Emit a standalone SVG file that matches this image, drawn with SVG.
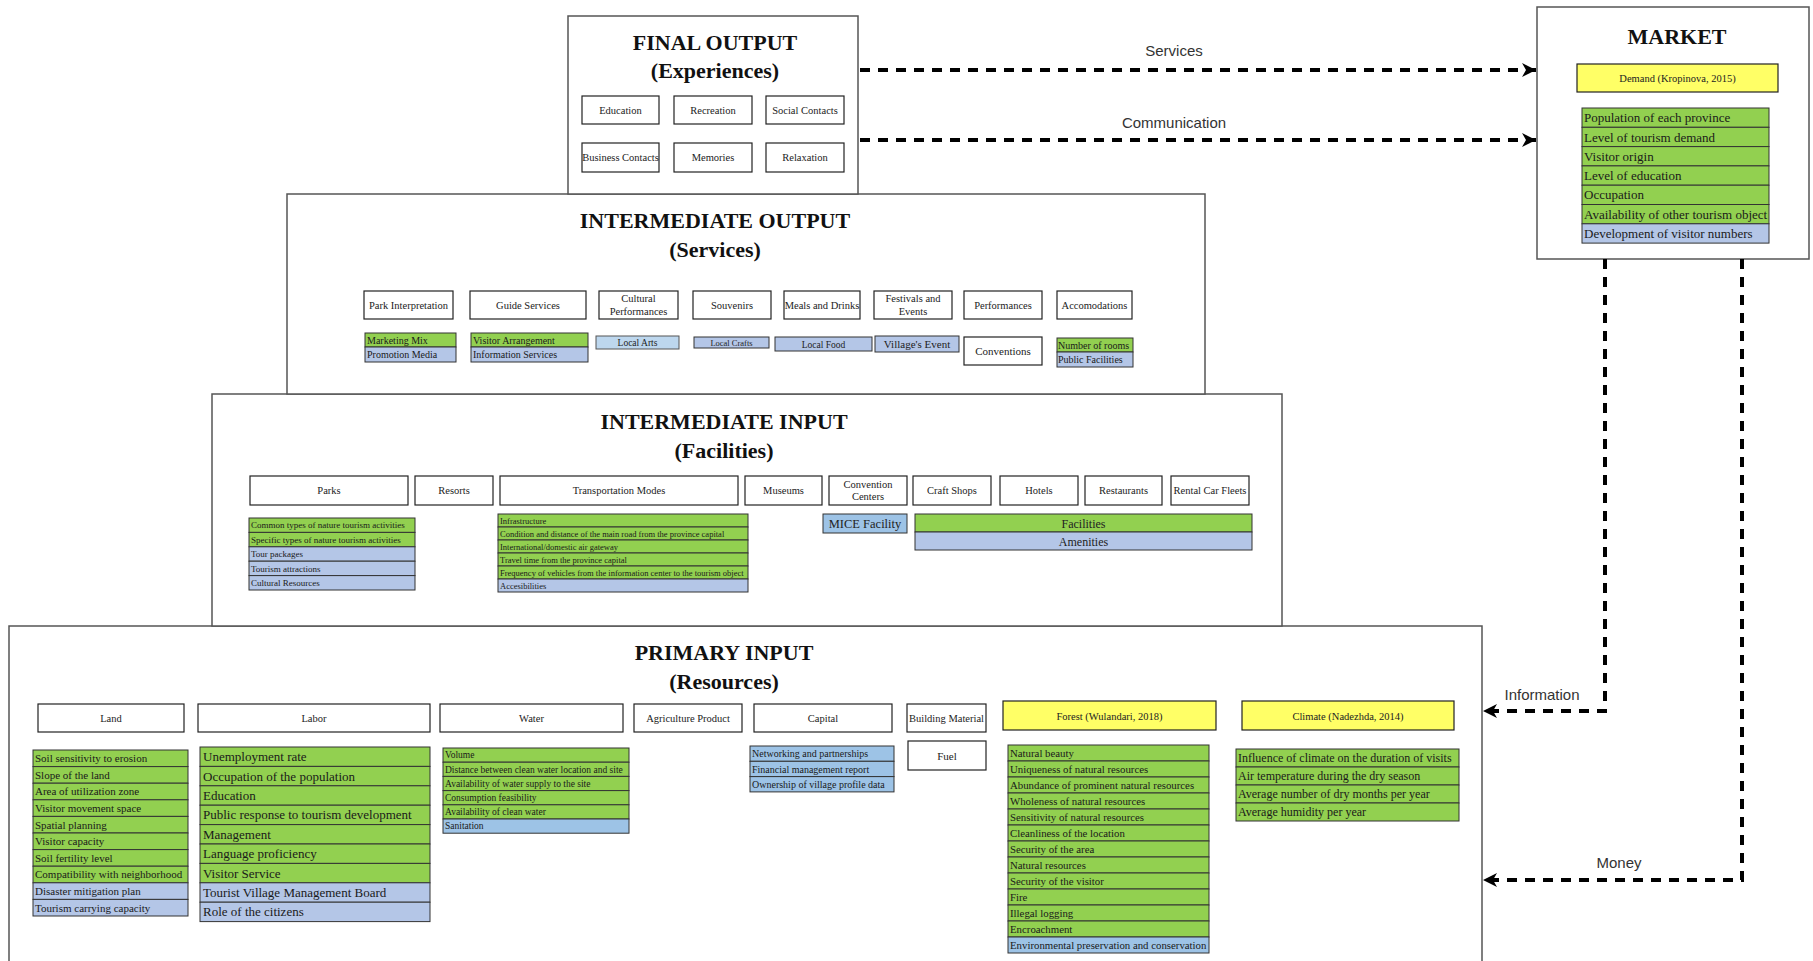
<svg xmlns="http://www.w3.org/2000/svg" width="1813" height="961" viewBox="0 0 1813 961">
<style>
.panel{fill:#fff;stroke:#555;stroke-width:1.5}
.box{fill:#fff;stroke:#222;stroke-width:1.2}
.g{fill:#92D050;stroke:#333;stroke-width:1}
.b{fill:#B4C6E7;stroke:#333;stroke-width:1}
.b2{fill:#9DC3E6;stroke:#333;stroke-width:1}
.lb{fill:#BDD7EE;stroke:#555;stroke-width:1}
.y{fill:#FFFF66;stroke:#222;stroke-width:1.2}
.title{font-family:"Liberation Serif","Times New Roman",serif;font-weight:bold;font-size:22px;fill:#111;text-anchor:middle}
.t{font-family:"Liberation Serif","Times New Roman",serif;font-size:10.5px;fill:#222;text-anchor:middle}
.l{font-family:"Liberation Serif","Times New Roman",serif;fill:#1a1a1a}
.edge{fill:none;stroke:#000;stroke-width:4;stroke-dasharray:10 8}
.el{font-family:"Liberation Sans",Arial,sans-serif;font-size:15px;fill:#333;text-anchor:middle}
</style>
<defs>
<marker id="arr" markerUnits="userSpaceOnUse" markerWidth="16" markerHeight="14" refX="14" refY="7" orient="auto">
<path d="M0,0 L14,7 L0,14 L4,7 z" fill="#000"/>
</marker>
</defs>

<g id="primary-input">
<rect class="panel" x="9" y="626" width="1473" height="345"/>
<text class="title" x="724" y="660">PRIMARY INPUT</text>
<text class="title" x="724" y="689">(Resources)</text>
<rect class="box" x="38" y="704" width="146" height="28"/><text class="t" x="111" y="722">Land</text>
<rect class="box" x="198" y="704" width="232" height="28"/><text class="t" x="314" y="722">Labor</text>
<rect class="box" x="440" y="704" width="183" height="28"/><text class="t" x="531.5" y="722">Water</text>
<rect class="box" x="634" y="704" width="108" height="28"/><text class="t" x="688" y="722">Agriculture Product</text>
<rect class="box" x="754" y="704" width="138" height="28"/><text class="t" x="823" y="722">Capital</text>
<rect class="box" x="907" y="704" width="79" height="28"/><text class="t" x="946.5" y="722">Building Material</text>
<rect class="box" x="908" y="741" width="78" height="29"/><text class="t" x="947" y="759.5" style="font-size:11px">Fuel</text>
<rect class="y" x="1003" y="701" width="213" height="29"/><text class="t" x="1109.5" y="719.5">Forest (Wulandari, 2018)</text>
<rect class="y" x="1242" y="701" width="212" height="29"/><text class="t" x="1348" y="719.5">Climate (Nadezhda, 2014)</text>
<g class="l" style="font-size:11px">
<rect class="g" x="33" y="750" width="155" height="16.6"/><text x="35" y="762.2">Soil sensitivity to erosion</text>
<rect class="g" x="33" y="766.6" width="155" height="16.6"/><text x="35" y="778.8">Slope of the land</text>
<rect class="g" x="33" y="783.2" width="155" height="16.6"/><text x="35" y="795.4">Area of utilization zone</text>
<rect class="g" x="33" y="799.8" width="155" height="16.6"/><text x="35" y="812">Visitor movement space</text>
<rect class="g" x="33" y="816.4" width="155" height="16.6"/><text x="35" y="828.6">Spatial planning</text>
<rect class="g" x="33" y="833" width="155" height="16.6"/><text x="35" y="845.2">Visitor capacity</text>
<rect class="g" x="33" y="849.6" width="155" height="16.6"/><text x="35" y="861.8">Soil fertility level</text>
<rect class="g" x="33" y="866.2" width="155" height="16.6"/><text x="35" y="878.4">Compatibility with neighborhood</text>
<rect class="b" x="33" y="882.8" width="155" height="16.6"/><text x="35" y="895">Disaster mitigation plan</text>
<rect class="b" x="33" y="899.4" width="155" height="16.6"/><text x="35" y="911.6">Tourism carrying capacity</text>
</g>
<g class="l" style="font-size:13px">
<rect class="g" x="200" y="747" width="230" height="19.4"/><text x="203" y="761.2">Unemployment rate</text>
<rect class="g" x="200" y="766.4" width="230" height="19.4"/><text x="203" y="780.6">Occupation of the population</text>
<rect class="g" x="200" y="785.8" width="230" height="19.4"/><text x="203" y="800">Education</text>
<rect class="g" x="200" y="805.2" width="230" height="19.4"/><text x="203" y="819.4">Public response to tourism development</text>
<rect class="g" x="200" y="824.6" width="230" height="19.4"/><text x="203" y="838.8">Management</text>
<rect class="g" x="200" y="844" width="230" height="19.4"/><text x="203" y="858.2">Language proficiency</text>
<rect class="g" x="200" y="863.4" width="230" height="19.4"/><text x="203" y="877.6">Visitor Service</text>
<rect class="b" x="200" y="882.8" width="230" height="19.4"/><text x="203" y="897">Tourist Village Management Board</text>
<rect class="b" x="200" y="902.2" width="230" height="19.4"/><text x="203" y="916.4">Role of the citizens</text>
</g>
<g class="l" style="font-size:9.5px">
<rect class="g" x="443" y="748" width="186" height="14.2"/><text x="445" y="758.4">Volume</text>
<rect class="g" x="443" y="762.2" width="186" height="14.2"/><text x="445" y="772.6">Distance between clean water location and site</text>
<rect class="g" x="443" y="776.4" width="186" height="14.2"/><text x="445" y="786.8">Availability of water supply to the site</text>
<rect class="g" x="443" y="790.6" width="186" height="14.2"/><text x="445" y="801">Consumption feasibility</text>
<rect class="g" x="443" y="804.8" width="186" height="14.2"/><text x="445" y="815.2">Availability of clean water</text>
<rect class="b2" x="443" y="819" width="186" height="14.2"/><text x="445" y="829.4">Sanitation</text>
</g>
<g class="l" style="font-size:10px">
<rect class="b2" x="750" y="746" width="144" height="15.3"/><text x="752" y="757.2">Networking and partnerships</text>
<rect class="b2" x="750" y="761.3" width="144" height="15.3"/><text x="752" y="772.5">Financial management report</text>
<rect class="b2" x="750" y="776.6" width="144" height="15.3"/><text x="752" y="787.8">Ownership of village profile data</text>
</g>
<g class="l" style="font-size:10.8px">
<rect class="g" x="1008" y="745" width="201" height="16"/><text x="1010" y="756.9">Natural beauty</text>
<rect class="g" x="1008" y="761" width="201" height="16"/><text x="1010" y="772.9">Uniqueness of natural resources</text>
<rect class="g" x="1008" y="777" width="201" height="16"/><text x="1010" y="788.9">Abundance of prominent natural resources</text>
<rect class="g" x="1008" y="793" width="201" height="16"/><text x="1010" y="804.9">Wholeness of natural resources</text>
<rect class="g" x="1008" y="809" width="201" height="16"/><text x="1010" y="820.9">Sensitivity of natural resources</text>
<rect class="g" x="1008" y="825" width="201" height="16"/><text x="1010" y="836.9">Cleanliness of the location</text>
<rect class="g" x="1008" y="841" width="201" height="16"/><text x="1010" y="852.9">Security of the area</text>
<rect class="g" x="1008" y="857" width="201" height="16"/><text x="1010" y="868.9">Natural resources</text>
<rect class="g" x="1008" y="873" width="201" height="16"/><text x="1010" y="884.9">Security of the visitor</text>
<rect class="g" x="1008" y="889" width="201" height="16"/><text x="1010" y="900.9">Fire</text>
<rect class="g" x="1008" y="905" width="201" height="16"/><text x="1010" y="916.9">Illegal logging</text>
<rect class="g" x="1008" y="921" width="201" height="16"/><text x="1010" y="932.9">Encroachment</text>
<rect class="b2" x="1008" y="937" width="201" height="16"/><text x="1010" y="948.9">Environmental preservation and conservation</text>
</g>
<g class="l" style="font-size:12px">
<rect class="g" x="1236" y="749" width="223" height="18"/><text x="1238" y="762.2">Influence of climate on the duration of visits</text>
<rect class="g" x="1236" y="767" width="223" height="18"/><text x="1238" y="780.2">Air temperature during the dry season</text>
<rect class="g" x="1236" y="785" width="223" height="18"/><text x="1238" y="798.2">Average number of dry months per year</text>
<rect class="g" x="1236" y="803" width="223" height="18"/><text x="1238" y="816.2">Average humidity per year</text>
</g>
</g>

<g id="intermediate-input">
<rect class="panel" x="212" y="394" width="1070" height="232"/>
<text class="title" x="724" y="429">INTERMEDIATE INPUT</text>
<text class="title" x="724" y="458">(Facilities)</text>
<rect class="box" x="250" y="476" width="158" height="29"/><text class="t" x="329" y="494">Parks</text>
<rect class="box" x="415" y="476" width="78" height="29"/><text class="t" x="454" y="494">Resorts</text>
<rect class="box" x="500" y="476" width="238" height="29"/><text class="t" x="619" y="494">Transportation Modes</text>
<rect class="box" x="745" y="476" width="77" height="29"/><text class="t" x="783.5" y="494">Museums</text>
<rect class="box" x="829" y="476" width="78" height="29"/><text class="t" x="868" y="487.5">Convention</text><text class="t" x="868" y="500">Centers</text>
<rect class="box" x="913" y="476" width="78" height="29"/><text class="t" x="952" y="494">Craft Shops</text>
<rect class="box" x="1000" y="476" width="78" height="29"/><text class="t" x="1039" y="494">Hotels</text>
<rect class="box" x="1085" y="476" width="77" height="29"/><text class="t" x="1123.5" y="494">Restaurants</text>
<rect class="box" x="1171" y="476" width="78" height="29"/><text class="t" x="1210" y="494">Rental Car Fleets</text>
<g class="l" style="font-size:9px">
<rect class="g" x="249" y="518" width="166" height="14.4"/><text x="251" y="528.3">Common types of nature tourism activities</text>
<rect class="g" x="249" y="532.4" width="166" height="14.4"/><text x="251" y="542.7">Specific types of nature tourism activities</text>
<rect class="b" x="249" y="546.8" width="166" height="14.4"/><text x="251" y="557.1">Tour packages</text>
<rect class="b" x="249" y="561.2" width="166" height="14.4"/><text x="251" y="571.5">Tourism attractions</text>
<rect class="b" x="249" y="575.6" width="166" height="14.4"/><text x="251" y="585.9">Cultural Resources</text>
</g>
<g class="l" style="font-size:8.5px">
<rect class="g" x="498" y="514" width="250" height="13"/><text x="500" y="523.5">Infrastructure</text>
<rect class="g" x="498" y="527" width="250" height="13"/><text x="500" y="536.5">Condition and distance of the main road from the province capital</text>
<rect class="g" x="498" y="540" width="250" height="13"/><text x="500" y="549.5">International/domestic air gateway</text>
<rect class="g" x="498" y="553" width="250" height="13"/><text x="500" y="562.5">Travel time from the province capital</text>
<rect class="g" x="498" y="566" width="250" height="13"/><text x="500" y="575.5">Frequency of vehicles from the information center to the tourism object</text>
<rect class="b" x="498" y="579" width="250" height="13"/><text x="500" y="588.5">Accesibilities</text>
</g>
<rect class="b2" x="823" y="514" width="84" height="19"/><text class="t" x="865" y="528" style="font-size:12.5px">MICE Facility</text>
<rect class="g" x="915" y="514" width="337" height="18"/><text class="t" x="1083.5" y="527.5" style="font-size:12px">Facilities</text>
<rect class="b" x="915" y="532" width="337" height="18"/><text class="t" x="1083.5" y="545.5" style="font-size:12px">Amenities</text>
</g>

<g id="intermediate-output">
<rect class="panel" x="287" y="194" width="918" height="200"/>
<text class="title" x="715" y="228">INTERMEDIATE OUTPUT</text>
<text class="title" x="715" y="257">(Services)</text>
<rect class="box" x="364" y="291" width="89" height="28"/><text class="t" x="408.5" y="309">Park Interpretation</text>
<rect class="box" x="470" y="291" width="116" height="28"/><text class="t" x="528" y="309">Guide Services</text>
<rect class="box" x="599" y="291" width="79" height="28"/><text class="t" x="638.5" y="302">Cultural</text><text class="t" x="638.5" y="315">Performances</text>
<rect class="box" x="693" y="291" width="78" height="28"/><text class="t" x="732" y="309">Souvenirs</text>
<rect class="box" x="784" y="291" width="76" height="28"/><text class="t" x="822" y="309">Meals and Drinks</text>
<rect class="box" x="874" y="291" width="78" height="28"/><text class="t" x="913" y="302">Festivals and</text><text class="t" x="913" y="315">Events</text>
<rect class="box" x="964" y="291" width="78" height="28"/><text class="t" x="1003" y="309">Performances</text>
<rect class="box" x="1057" y="291" width="75" height="28"/><text class="t" x="1094.5" y="309">Accomodations</text>
<g class="l" style="font-size:10px">
<rect class="g" x="365" y="333" width="91" height="14"/><text x="367" y="343.5">Marketing Mix</text>
<rect class="b" x="365" y="347" width="91" height="15"/><text x="367" y="358">Promotion Media</text>
<rect class="g" x="471" y="333" width="117" height="14"/><text x="473" y="343.5">Visitor Arrangement</text>
<rect class="b" x="471" y="347" width="117" height="15"/><text x="473" y="358">Information Services</text>
<rect class="g" x="1057" y="338" width="76" height="14"/><text x="1058" y="348.5">Number of rooms</text>
<rect class="b" x="1057" y="352" width="76" height="15"/><text x="1058" y="363">Public Facilities</text>
</g>
<rect class="lb" x="596" y="336" width="83" height="13"/><text class="t" x="637.5" y="346" style="font-size:9.5px">Local Arts</text>
<rect class="b" x="694" y="337" width="75" height="11"/><text class="t" x="731.5" y="345.5" style="font-size:8.5px">Local Crafts</text>
<rect class="b" x="775" y="337" width="97" height="14"/><text class="t" x="823.5" y="347.5" style="font-size:9.5px">Local Food</text>
<rect class="b" x="875" y="336" width="84" height="16"/><text class="t" x="917" y="348" style="font-size:11px">Village's Event</text>
<rect class="box" x="964" y="337" width="78" height="28"/><text class="t" x="1003" y="355" style="font-size:11px">Conventions</text>
</g>

<g id="final-output">
<rect class="panel" x="568" y="16" width="290" height="178"/>
<text class="title" x="715" y="50">FINAL OUTPUT</text>
<text class="title" x="715" y="78">(Experiences)</text>
<rect class="box" x="582" y="96" width="77" height="28"/><text class="t" x="620.5" y="114">Education</text>
<rect class="box" x="674" y="96" width="78" height="28"/><text class="t" x="713" y="114">Recreation</text>
<rect class="box" x="766" y="96" width="78" height="28"/><text class="t" x="805" y="114">Social Contacts</text>
<rect class="box" x="582" y="143" width="77" height="29"/><text class="t" x="620.5" y="161">Business Contacts</text>
<rect class="box" x="674" y="143" width="78" height="29"/><text class="t" x="713" y="161">Memories</text>
<rect class="box" x="766" y="143" width="78" height="29"/><text class="t" x="805" y="161">Relaxation</text>
</g>

<g id="market">
<rect class="panel" x="1537" y="7" width="272" height="252"/>
<text class="title" x="1677" y="44">MARKET</text>
<rect class="y" x="1577" y="64" width="201" height="28"/><text class="t" x="1677.5" y="81.5">Demand (Kropinova, 2015)</text>
<g class="l" style="font-size:13px">
<rect class="g" x="1582" y="108" width="187" height="19.3"/><text x="1584" y="122.2">Population of each province</text>
<rect class="g" x="1582" y="127.3" width="187" height="19.3"/><text x="1584" y="141.5">Level of tourism demand</text>
<rect class="g" x="1582" y="146.6" width="187" height="19.3"/><text x="1584" y="160.8">Visitor origin</text>
<rect class="g" x="1582" y="165.9" width="187" height="19.3"/><text x="1584" y="180.1">Level of education</text>
<rect class="g" x="1582" y="185.2" width="187" height="19.3"/><text x="1584" y="199.4">Occupation</text>
<rect class="g" x="1582" y="204.5" width="187" height="19.3"/><text x="1584" y="218.7">Availability of other tourism object</text>
<rect class="b" x="1582" y="223.8" width="187" height="19.3"/><text x="1584" y="238">Development of visitor numbers</text>
</g>
</g>

<g id="connectors">
<path class="edge" d="M860,70 H1536" marker-end="url(#arr)"/>
<path class="edge" d="M860,140 H1536" marker-end="url(#arr)"/>
<path class="edge" d="M1605,259 V711 H1483" marker-end="url(#arr)"/>
<path class="edge" d="M1742,259 V880 H1483" marker-end="url(#arr)"/>
<text class="el" x="1174" y="56">Services</text>
<text class="el" x="1174" y="128">Communication</text>
<text class="el" x="1542" y="700">Information</text>
<text class="el" x="1619" y="868">Money</text>
</g>
</svg>
